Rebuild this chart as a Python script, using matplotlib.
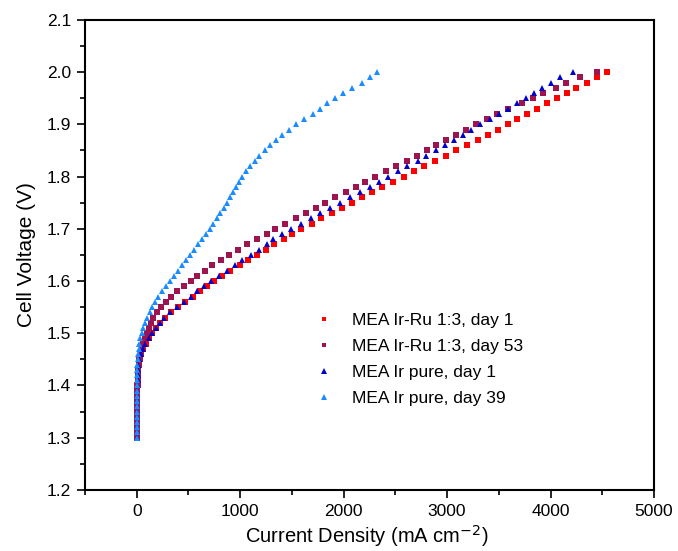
import matplotlib
matplotlib.use("Agg")
import matplotlib.pyplot as plt
from matplotlib.ticker import MultipleLocator

plt.rcParams['font.family'] = ['Liberation Sans', 'DejaVu Sans']

# cell voltage steps (V), shared by all four polarisation curves
voltage = [1.30, 1.31, 1.32, 1.33, 1.34, 1.35, 1.36, 1.37, 1.38, 1.39,
           1.40, 1.41, 1.42, 1.43, 1.44, 1.45, 1.46, 1.47, 1.48, 1.49,
           1.50, 1.51, 1.52, 1.53, 1.54, 1.55, 1.56, 1.57, 1.58, 1.59,
           1.60, 1.61, 1.62, 1.63, 1.64, 1.65, 1.66, 1.67, 1.68, 1.69,
           1.70, 1.71, 1.72, 1.73, 1.74, 1.75, 1.76, 1.77, 1.78, 1.79,
           1.80, 1.81, 1.82, 1.83, 1.84, 1.85, 1.86, 1.87, 1.88, 1.89,
           1.90, 1.91, 1.92, 1.93, 1.94, 1.95, 1.96, 1.97, 1.98, 1.99,
           2.00]

# current density (mA cm-2)
irru_day1 = [0, 0, 1, 1, 1, 2, 2, 3, 4, 5,
             6, 8, 10, 13, 17, 26, 43, 62, 88, 120,
             152, 188, 222, 270, 330, 395, 470, 540, 610, 680,
             750, 825, 900, 995, 1080, 1165, 1250, 1330, 1420, 1505,
             1590, 1690, 1785, 1885, 1980, 2080, 2180, 2275, 2375, 2475,
             2580, 2680, 2780, 2885, 2985, 3090, 3190, 3295, 3395, 3495,
             3585, 3680, 3775, 3870, 3970, 4065, 4160, 4250, 4350, 4450,
             4548]

irru_day53 = [0, 0, 1, 1, 2, 2, 3, 4, 5, 6,
              8, 10, 13, 16, 20, 28, 38, 50, 65, 82,
              100, 120, 140, 160, 195, 232, 280, 335, 390, 455,
              520, 585, 655, 730, 815, 895, 975, 1065, 1165, 1255,
              1340, 1437, 1540, 1635, 1730, 1820, 1920, 2020, 2115, 2205,
              2305, 2410, 2510, 2610, 2705, 2805, 2895, 2990, 3085, 3180,
              3275, 3385, 3485, 3590, 3720, 3830, 3930, 4050, 4150, 4280,
              4450]

ir_day1 = [0, 0, 1, 1, 1, 2, 2, 3, 4, 5,
           6, 8, 10, 12, 16, 25, 40, 58, 84, 114,
           146, 182, 220, 268, 325, 388, 455, 520, 585, 650,
           720, 795, 870, 945, 1020, 1100, 1180, 1260, 1317, 1405,
           1490, 1585, 1680, 1775, 1865, 1965, 2065, 2160, 2250, 2345,
           2430, 2525, 2615, 2715, 2800, 2890, 2980, 3065, 3150, 3235,
           3320, 3410, 3500, 3585, 3675, 3760, 3840, 3915, 4005, 4095,
           4220]

ir_day39 = [0, 0, 0, 1, 1, 1, 2, 2, 3, 3,
            4, 4, 5, 5, 5, 8, 12, 18, 26, 36,
            48, 62, 80, 100, 125, 148, 175, 205, 240, 278,
            318, 358, 400, 438, 475, 512, 550, 590, 628, 666,
            704, 740, 774, 805, 842, 872, 900, 930, 958, 990,
            1020, 1060, 1097, 1140, 1184, 1236, 1290, 1348, 1408, 1470,
            1540, 1615, 1700, 1772, 1835, 1915, 1995, 2085, 2180, 2255,
            2325]

labels = ["MEA Ir-Ru 1:3, day 1", "MEA Ir-Ru 1:3, day 53",
          "MEA Ir pure, day 1", "MEA Ir pure, day 39"]
colors = ["#ff0000", "#9e1450", "#0000c8", "#1a8cff"]
markers = ["s", "s", "^", "^"]

fig = plt.figure(figsize=(6.78, 5.51), dpi=100)
ax = fig.add_axes([0.1254, 0.111, 0.8392, 0.853])

series = [irru_day1, irru_day53, ir_day1, ir_day39]
for cur, lab, col, mk in zip(series, labels, colors, markers):
    size = 4.0 if mk == "s" else 5.0
    ax.plot(cur, voltage, linestyle="none", marker=mk, markersize=size,
            color=col, markeredgewidth=0, label=lab)

ax.set_xlim(-500, 5000)
ax.set_ylim(1.2, 2.1)
ax.xaxis.set_major_locator(MultipleLocator(1000))
ax.xaxis.set_minor_locator(MultipleLocator(500))
ax.yaxis.set_major_locator(MultipleLocator(0.1))
ax.yaxis.set_minor_locator(MultipleLocator(0.05))
ax.tick_params(which="major", direction="out", length=6, width=1.2,
               labelsize=12.5, pad=4)
ax.tick_params(which="minor", direction="out", length=3.5, width=1.2)
ax.tick_params(top=False, right=False)
ax.set_xticks([0, 1000, 2000, 3000, 4000, 5000])
for sp in ax.spines.values():
    sp.set_linewidth(1.5)

# x label placed against the bottom edge so it stays inside the canvas
fig.text(0.541, 0.004, "Current Density (mA cm$^{-2}$)", fontsize=14.5,
         ha="center", va="bottom")
ax.set_ylabel("Cell Voltage (V)", fontsize=15, labelpad=8)

ax.legend(loc="upper left", bbox_to_anchor=(0.386, 0.395), frameon=False,
          fontsize=12.5, markerscale=0.85, handlelength=1.2,
          handletextpad=1.0, labelspacing=0.62, borderpad=0)

fig.savefig("out.png", dpi=100)
